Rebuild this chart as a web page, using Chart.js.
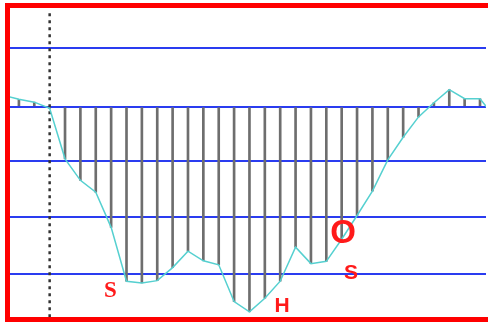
<!DOCTYPE html>
<html>
<head>
<meta charset="utf-8">
<script src="https://cdn.jsdelivr.net/npm/chart.js@4.4.1/dist/chart.umd.min.js"></script>
<style>
  html, body { margin: 0; padding: 0; background: #fff; overflow: hidden; }
  #frame {
    position: absolute; left: 5px; top: 3px;
    width: 478px; height: 309px;
    border-top: 5px solid #ff0000;
    border-left: 5px solid #ff0000;
    border-bottom: 5px solid #ff0000;
  }
  #wrap { position: relative; width: 476px; height: 309px; }
</style>
</head>
<body>
<div id="frame"><div id="wrap"><canvas id="chart"></canvas></div></div>
<script>
// stations along the profile and the level of the curve at each one
const positions = [0, 1, 2, 3, 4, 5, 6, 7, 8, 9, 10, 11, 12, 13, 14, 15, 16,
  17, 18, 19, 20, 21, 22, 23, 24, 25, 26, 27, 28, 29, 30, 31, 32];
const profile = [0.20, 0.13, 0.08, -0.03, -0.92, -1.30, -1.51, -2.13, -3.08, -3.11,
  -3.07, -2.84, -2.55, -2.72, -2.79, -3.44, -3.62, -3.38, -3.08, -2.48, -2.77,
  -2.73, -2.34, -1.92, -1.49, -0.94, -0.54, -0.18, 0.07, 0.30, 0.14, 0.14, -0.20];

// horizontal reference lines (0 = base level)
const gridLevels = [1.04, 0, -0.96, -1.94, -2.96];

// dotted vertical marker
const markerPosition = 3;
const markerTop = 1.65;
const markerBottom = -3.72;

// red letters on the chart
const markText = ['S', 'H', 'S', 'O'];
const markX = [6.96, 18.12, 22.61, 22.09];
const markY = [-3.25, -3.52, -2.94, -2.25];

const letters = {
  id: 'letters',
  afterDatasetsDraw(chart) {
    const ctx = chart.ctx;
    const xs = chart.scales.x;
    const ys = chart.scales.y;
    ctx.save();
    ctx.fillStyle = '#ff1a1a';
    ctx.textAlign = 'center';
    ctx.textBaseline = 'middle';
    markText.forEach((t, i) => {
      if (t === 'O') {
        ctx.font = 'bold 33px "Liberation Sans"';
      } else if (i === 0) {
        ctx.font = 'bold 23px "Liberation Serif"';
      } else {
        ctx.font = 'bold 21px "Liberation Sans"';
      }
      ctx.fillText(t, xs.getPixelForValue(markX[i]), ys.getPixelForValue(markY[i]));
    });
    ctx.restore();
  }
};

new Chart(document.getElementById('chart'), {
  type: 'bar',
  data: {
    datasets: [
      {
        type: 'line',
        data: positions.map((p, i) => ({ x: p, y: profile[i] })),
        borderColor: '#55d0d0',
        borderWidth: 1.5,
        pointRadius: 0,
        tension: 0,
        order: 0
      },
      {
        type: 'line',
        data: [{ x: markerPosition, y: markerTop }, { x: markerPosition, y: markerBottom }],
        borderColor: '#333',
        borderWidth: 2.5,
        borderDash: [3, 4],
        pointRadius: 0,
        order: 1
      },
      {
        type: 'bar',
        data: positions.map((p, i) => ({ x: p, y: profile[i] })),
        backgroundColor: '#6e6e6e',
        barThickness: 2,
        order: 2
      }
    ]
  },
  options: {
    responsive: true,
    maintainAspectRatio: false,
    animation: false,
    layout: { padding: 0 },
    plugins: {
      legend: { display: false },
      tooltip: { enabled: false }
    },
    scales: {
      x: {
        type: 'linear',
        display: false,
        offset: false,
        min: 0.42,
        max: 31.39
      },
      y: {
        min: -3.712,
        max: 1.742,
        afterBuildTicks: (scale) => {
          scale.ticks = gridLevels.map(v => ({ value: v }));
        },
        ticks: { display: false },
        grid: { color: '#2a3cf0', lineWidth: 2, drawTicks: false },
        border: { display: false }
      }
    }
  },
  plugins: [letters]
});
</script>
</body>
</html>
